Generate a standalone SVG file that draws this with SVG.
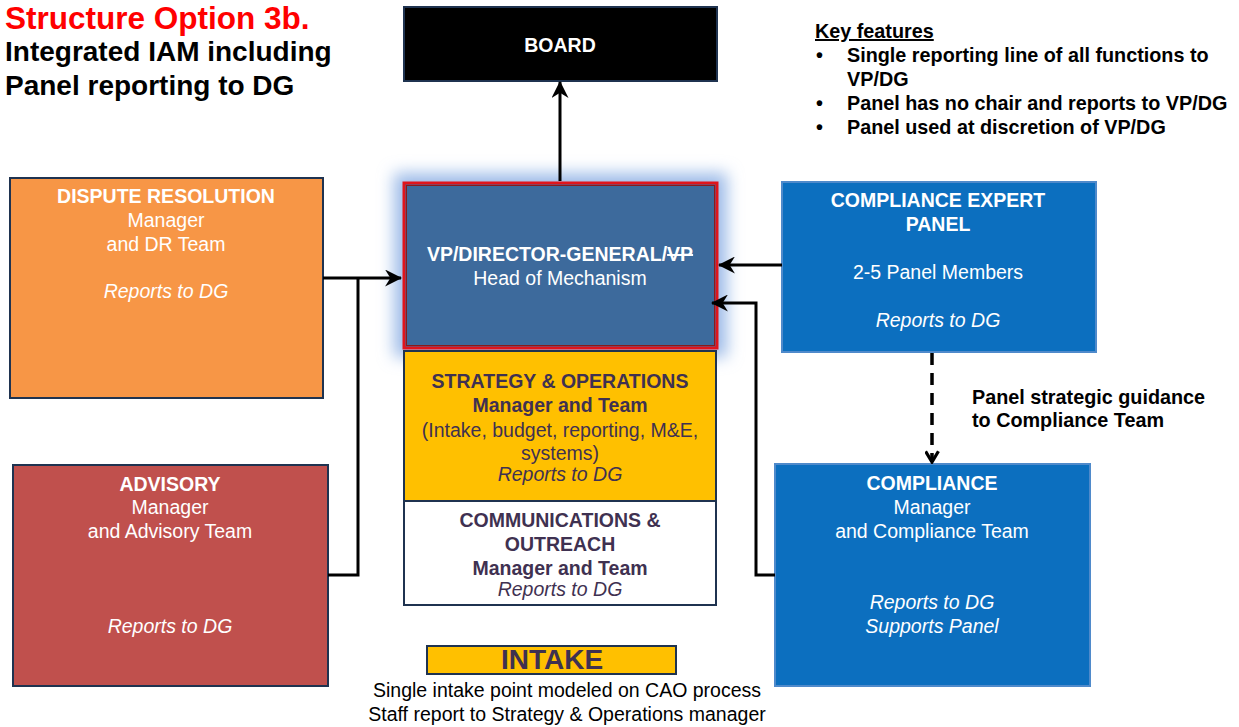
<svg xmlns="http://www.w3.org/2000/svg" width="1239" height="727" viewBox="0 0 1239 727">
<style>
  text { font-family: "Liberation Sans", Arial, sans-serif; }
  .w { fill: #ffffff; font-size: 19.5px; text-anchor: middle; }
  .p { fill: #3F3151; font-size: 19.5px; text-anchor: middle; }
  .b { font-weight: bold; }
  .i { font-style: italic; }
  .k { fill: #000000; font-size: 19.8px; font-weight: bold; }
  .conn { fill: none; stroke: #000000; stroke-width: 3; }
</style>
<defs>
  <marker id="arr" viewBox="0 0 16 16" refX="15" refY="8" markerWidth="17" markerHeight="17" markerUnits="userSpaceOnUse" orient="auto">
    <path d="M0,0 L16,8 L0,16 L5,8 z" fill="#000000"/>
  </marker>
  <marker id="vopen" viewBox="0 0 14 14" refX="12" refY="7" markerWidth="15" markerHeight="15" markerUnits="userSpaceOnUse" orient="auto">
    <path d="M2,1 L12,7 L2,13" fill="none" stroke="#000000" stroke-width="3"/>
  </marker>
  <filter id="glow" x="-20%" y="-20%" width="140%" height="140%">
    <feGaussianBlur stdDeviation="8"/>
  </filter>
</defs>

<g id="title">
  <text x="5" y="29" fill="#ff0000" font-size="31.5" font-weight="bold">Structure Option 3b.</text>
  <text x="5" y="61" fill="#000000" font-size="28" font-weight="bold">Integrated IAM including</text>
  <text x="5" y="95" fill="#000000" font-size="28" font-weight="bold">Panel reporting to DG</text>
</g>

<g id="key-features">
  <text x="815" y="38" class="k" text-decoration="underline">Key features</text>
  <text x="816" y="62" class="k">•</text>
  <text x="847" y="62" class="k">Single reporting line of all functions to</text>
  <text x="847" y="86" class="k">VP/DG</text>
  <text x="816" y="110" class="k">•</text>
  <text x="847" y="110" class="k">Panel has no chair and reports to VP/DG</text>
  <text x="816" y="134" class="k">•</text>
  <text x="847" y="134" class="k">Panel used at discretion of VP/DG</text>
</g>

<g id="board">
  <rect x="404" y="7" width="313" height="74" fill="#000000" stroke="#1F3350" stroke-width="2"/>
  <text x="560" y="52" class="w b">BOARD</text>
</g>

<g id="vp">
  <rect x="394" y="173" width="333" height="184" fill="#9dbbe8" filter="url(#glow)"/>
  <rect x="404" y="183" width="313" height="165" fill="#3D6A9C" stroke="#e0141c" stroke-width="3"/>
  <rect x="406.5" y="185.5" width="308" height="160" fill="none" stroke="#8a1a1a" stroke-width="1"/>
  <text x="560" y="261" class="w b">VP/DIRECTOR-GENERAL/<tspan text-decoration="line-through">VP</tspan></text>
  <text x="560" y="285" class="w">Head of Mechanism</text>
</g>

<g id="strategy">
  <rect x="404" y="351" width="312" height="150" fill="#FFC000" stroke="#1F3350" stroke-width="2"/>
  <text x="560" y="388" class="p b">STRATEGY &amp; OPERATIONS</text>
  <text x="560" y="412" class="p b">Manager and Team</text>
  <text x="560" y="437" class="p">(Intake, budget, reporting, M&amp;E,</text>
  <text x="560" y="460" class="p">systems)</text>
  <text x="560" y="481" class="p i" font-size="17">Reports to DG</text>
</g>

<g id="communications">
  <rect x="404" y="501" width="312" height="104" fill="#ffffff" stroke="#1F3350" stroke-width="2"/>
  <text x="560" y="527" class="p b">COMMUNICATIONS &amp;</text>
  <text x="560" y="551" class="p b">OUTREACH</text>
  <text x="560" y="575" class="p b">Manager and Team</text>
  <text x="560" y="596" class="p i" font-size="17">Reports to DG</text>
</g>

<g id="dispute-resolution">
  <rect x="10" y="178" width="313" height="220" fill="#F79646" stroke="#1F3350" stroke-width="2"/>
  <text x="166" y="203" class="w b">DISPUTE RESOLUTION</text>
  <text x="166" y="227" class="w">Manager</text>
  <text x="166" y="251" class="w">and DR Team</text>
  <text x="166" y="298" class="w i">Reports to DG</text>
</g>

<g id="advisory">
  <rect x="13" y="465" width="315" height="221" fill="#C0504D" stroke="#1F3350" stroke-width="2"/>
  <text x="170" y="491" class="w b">ADVISORY</text>
  <text x="170" y="514" class="w">Manager</text>
  <text x="170" y="538" class="w">and Advisory Team</text>
  <text x="170" y="633" class="w i">Reports to DG</text>
</g>

<g id="compliance-expert-panel">
  <rect x="782" y="182" width="314" height="170" fill="#0C6FBF" stroke="#4F8ACB" stroke-width="2"/>
  <text x="938" y="207" class="w b">COMPLIANCE EXPERT</text>
  <text x="938" y="231" class="w b">PANEL</text>
  <text x="938" y="279" class="w">2-5 Panel Members</text>
  <text x="938" y="327" class="w i">Reports to DG</text>
</g>

<g id="compliance">
  <rect x="775" y="464" width="315" height="222" fill="#0C6FBF" stroke="#4F8ACB" stroke-width="2"/>
  <text x="932" y="490" class="w b">COMPLIANCE</text>
  <text x="932" y="514" class="w">Manager</text>
  <text x="932" y="538" class="w">and Compliance Team</text>
  <text x="932" y="609" class="w i">Reports to DG</text>
  <text x="932" y="633" class="w i">Supports Panel</text>
</g>

<g id="intake">
  <rect x="427" y="646" width="249" height="28" fill="#FFC000" stroke="#1F3350" stroke-width="2"/>
  <text x="552" y="669" fill="#3F3151" font-size="28" font-weight="bold" text-anchor="middle">INTAKE</text>
  <text x="567" y="697" fill="#000000" font-size="19.5" text-anchor="middle">Single intake point modeled on CAO process</text>
  <text x="567" y="721" fill="#000000" font-size="19.5" text-anchor="middle">Staff report to Strategy &amp; Operations manager</text>
</g>

<g id="guidance-label">
  <text x="972" y="404" class="k">Panel strategic guidance</text>
  <text x="972" y="427" class="k">to Compliance Team</text>
</g>

<g id="connectors">
  <line x1="560" y1="181" x2="560" y2="82" class="conn" marker-end="url(#arr)"/>
  <line x1="323" y1="278" x2="401" y2="278" class="conn" marker-end="url(#arr)"/>
  <polyline points="328,575 358,575 358,278" class="conn"/>
  <line x1="782" y1="265" x2="719" y2="265" class="conn" marker-end="url(#arr)"/>
  <polyline points="775,575 756,575 756,303 712,303" class="conn" marker-end="url(#arr)"/>
  <line x1="932" y1="353" x2="932" y2="462" fill="none" stroke="#000000" stroke-width="3.5" stroke-dasharray="12,8" marker-end="url(#vopen)"/>
</g>
</svg>
